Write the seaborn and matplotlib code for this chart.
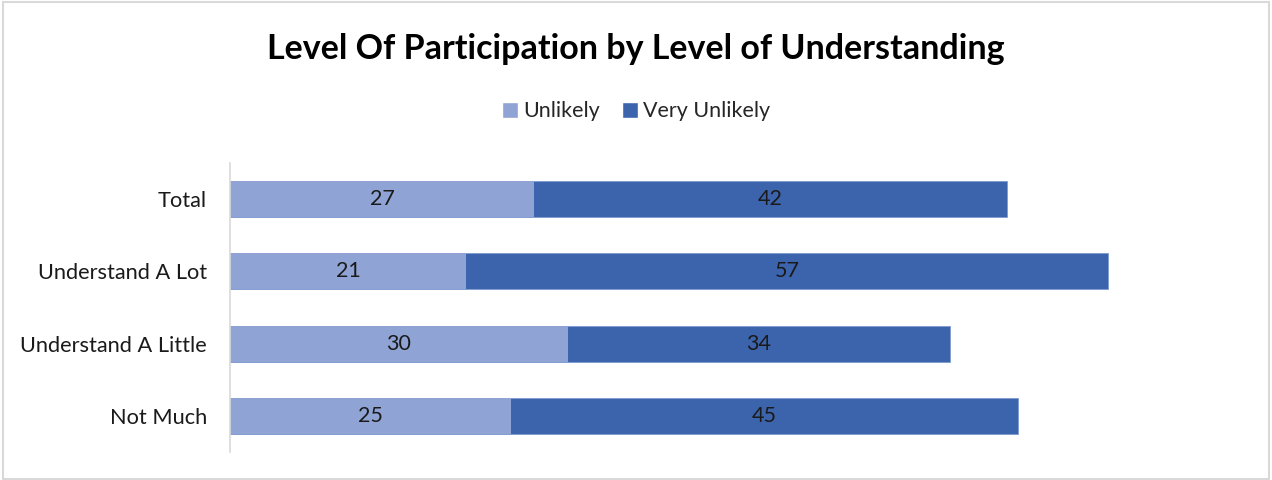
import matplotlib.pyplot as plt
import pandas as pd
import seaborn as sns
from matplotlib.patches import Patch, Rectangle

categories = ["Total", "Understand A Lot", "Understand A Little", "Not Much"]
unlikely = [27, 21, 30, 25]
very_unlikely = [42, 57, 34, 45]

light = "#8FA4D4"
dark = "#3C64AC"

df = pd.DataFrame({"group": categories, "Unlikely": unlikely, "Very Unlikely": very_unlikely})
df["sum"] = df["Unlikely"] + df["Very Unlikely"]

sns.set_style("white")
plt.rcParams["font.family"] = ["Lato", "DejaVu Sans"]

fig = plt.figure(figsize=(12.72, 4.8), dpi=100)
ax = fig.add_axes([230 / 1272, 28 / 480, 1013 / 1272, 289 / 480])

# stacked: full length in dark, first part in light on top
sns.barplot(data=df, y="group", x="sum", order=categories, color=dark, width=0.5,
            saturation=1, ax=ax, edgecolor="#7F9BD0", linewidth=0.6)
sns.barplot(data=df, y="group", x="Unlikely", order=categories, color=light, width=0.5,
            saturation=1, ax=ax, linewidth=0)

for i, row in df.iterrows():
    ax.text(row["Unlikely"] / 2, i, str(row["Unlikely"]), ha="center", va="center",
            fontsize=15.5, color="#1a1a1a")
    ax.text(row["Unlikely"] + row["Very Unlikely"] / 2, i, str(row["Very Unlikely"]),
            ha="center", va="center", fontsize=15.5, color="#1a1a1a")

ax.set_xlim(0, 90)
ax.set_ylim(3.5, -0.5)
ax.set_xlabel("")
ax.set_ylabel("")
ax.set_xticks([])
ax.tick_params(axis="y", length=0, labelsize=15.7, labelcolor="#1a1a1a", pad=16.5)
for s in ["top", "right", "bottom"]:
    ax.spines[s].set_visible(False)
ax.spines["left"].set_color("#d9d9d9")
ax.spines["left"].set_linewidth(1.2)

fig.text(0.5, 0.897, "Level Of Participation by Level of Understanding", ha="center",
         va="center", fontsize=24.5, fontweight="bold", color="black")
handles = [Patch(facecolor=light, label="Unlikely"), Patch(facecolor=dark, label="Very Unlikely")]
fig.legend(handles=handles, loc="center", bbox_to_anchor=(0.5, 0.768), ncol=2, frameon=False,
           fontsize=15.5, handlelength=0.75, handleheight=0.75, handletextpad=0.25,
           columnspacing=1.0)

fig.patches.append(Rectangle((0.002, 0.002), 0.996, 0.993, transform=fig.transFigure,
                             fill=False, edgecolor="#d9d9d9", linewidth=1.5))

plt.savefig("out.png", dpi=100)
plt.close()
